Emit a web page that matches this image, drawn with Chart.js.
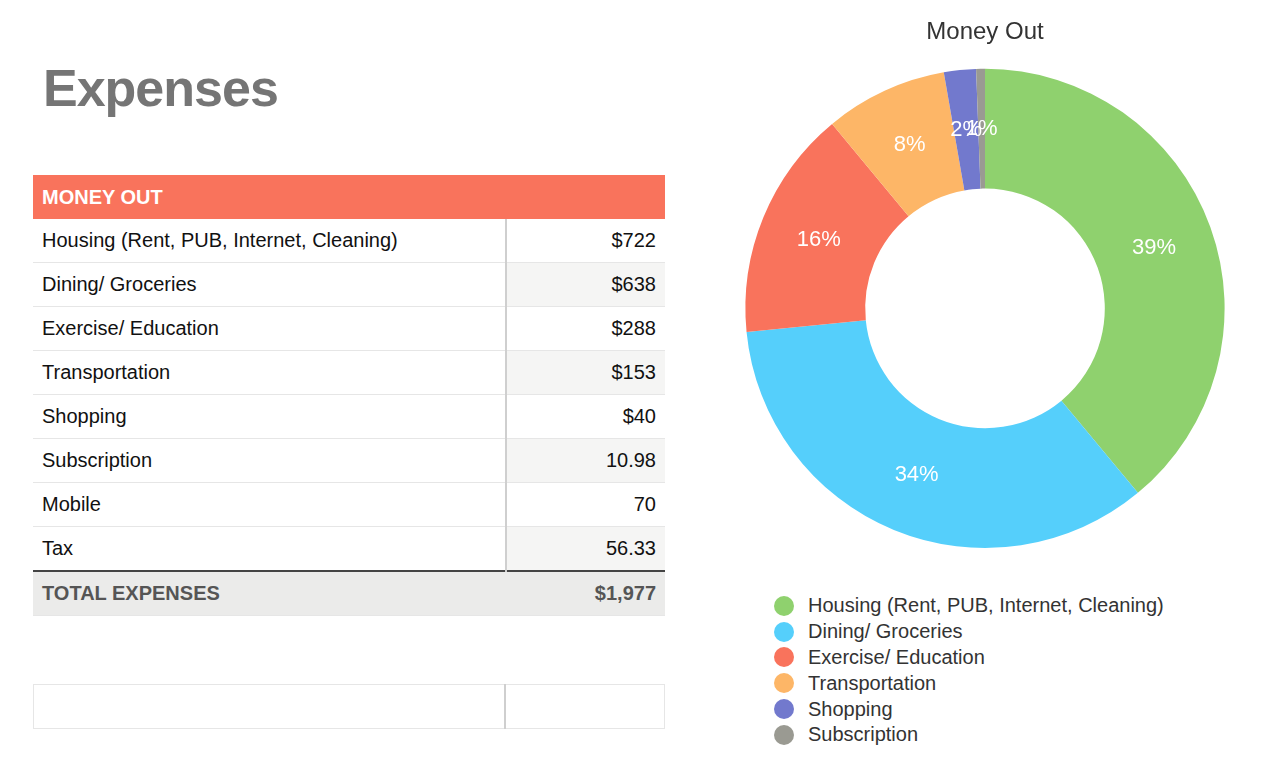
<!DOCTYPE html>
<html>
<head>
<meta charset="utf-8">
<script src="https://cdn.jsdelivr.net/npm/chart.js@4"></script>
<style>
  body { margin: 0; width: 1280px; height: 772px; background: #fff; font-family: "Liberation Sans", Arial, sans-serif; position: relative; overflow: hidden; }
  h1 { position: absolute; left: 43px; top: 58px; margin: 0; font-size: 52px; font-weight: bold; color: #757575; letter-spacing: -1px; }
  table { position: absolute; left: 33px; top: 175px; width: 632px; border-collapse: collapse; font-size: 20px; color: #111; }
  td { height: 43px; padding: 0 9px; border-bottom: 1px solid #e6e6e6; }
  td.v { text-align: right; width: 140px; border-left: 2px solid #cfcfcf; }
  tr.alt td.v { background: #f5f5f4; }
  tr.head td { background: #f9735c; color: #fff; font-weight: bold; height: 44px; border: none; }
  tr.total td { background: #ebebea; color: #555; font-weight: bold; border-top: 2px solid #444; border-left: none; }
  #empty { top: 684px; }
  #empty td { border: 1px solid #e6e6e6; }
  #empty td.v { border-left: 2px solid #cfcfcf; }
  #chartBox { position: absolute; left: 740px; top: 0; width: 490px; height: 560px; }
  #legend { position: absolute; left: 774px; top: 593px; font-size: 20px; color: #333; }
  #legend div { height: 25.8px; display: flex; align-items: center; }
  #legend span { width: 20px; height: 20px; border-radius: 50%; display: inline-block; margin-right: 14px; }
</style>
</head>
<body>
<h1>Expenses</h1>
<table id="moneyTable"></table>
<table id="empty"><tr><td></td><td class="v"></td></tr></table>
<div id="chartBox"><canvas id="moneyChart"></canvas></div>
<div id="legend"></div>
<script>
const tableLabels = ['Housing (Rent, PUB, Internet, Cleaning)', 'Dining/ Groceries', 'Exercise/ Education', 'Transportation', 'Shopping', 'Subscription', 'Mobile', 'Tax'];
const tableValues = ['$722', '$638', '$288', '$153', '$40', '10.98', '70', '56.33'];
const totalText = '$1,977';

const chartLabels = ['Housing (Rent, PUB, Internet, Cleaning)', 'Dining/ Groceries', 'Exercise/ Education', 'Transportation', 'Shopping', 'Subscription'];
const chartValues = [722, 638, 288, 153, 40, 10.98];
const chartColors = ['#8fd16e', '#55cffb', '#f9735c', '#fdb667', '#7279cd', '#9a9a92'];

let rows = '<tr class="head"><td colspan="2">MONEY OUT</td></tr>';
tableLabels.forEach((label, i) => {
    rows += `<tr class="${i % 2 ? 'alt' : ''}"><td>${label}</td><td class="v">${tableValues[i]}</td></tr>`;
});
rows += `<tr class="total"><td>TOTAL EXPENSES</td><td class="v">${totalText}</td></tr>`;
document.getElementById('moneyTable').innerHTML = rows;

document.getElementById('legend').innerHTML = chartLabels
    .map((label, i) => `<div><span style="background:${chartColors[i]}"></span>${label}</div>`)
    .join('');

// percentage labels on each slice
const sliceLabels = {
    id: 'sliceLabels',
    afterDatasetsDraw(chart) {
        const ctx = chart.ctx;
        const meta = chart.getDatasetMeta(0);
        const total = chartValues.reduce((a, b) => a + b, 0);
        ctx.save();
        ctx.fillStyle = '#fff';
        ctx.font = '22px "Liberation Sans", Arial, sans-serif';
        ctx.textAlign = 'center';
        ctx.textBaseline = 'middle';
        meta.data.forEach((arc, i) => {
            const p = arc.tooltipPosition();
            ctx.fillText(Math.round(chartValues[i] / total * 100) + '%', p.x, p.y);
        });
        ctx.restore();
    }
};

new Chart(document.getElementById('moneyChart'), {
    type: 'doughnut',
    data: {
        labels: chartLabels,
        datasets: [{ data: chartValues, backgroundColor: chartColors, borderWidth: 0 }]
    },
    options: {
        responsive: true,
        maintainAspectRatio: false,
        animation: false,
        cutout: '50%',
        layout: { padding: { top: 0, bottom: 12 } },
        plugins: {
            legend: { display: false },
            tooltip: { enabled: false },
            title: {
                display: true,
                text: 'Money Out',
                color: '#333',
                font: { size: 24, family: '"Liberation Sans", Arial, sans-serif', weight: 'normal' },
                padding: { top: 18, bottom: 22 }
            }
        }
    },
    plugins: [sliceLabels]
});
</script>
</body>
</html>
